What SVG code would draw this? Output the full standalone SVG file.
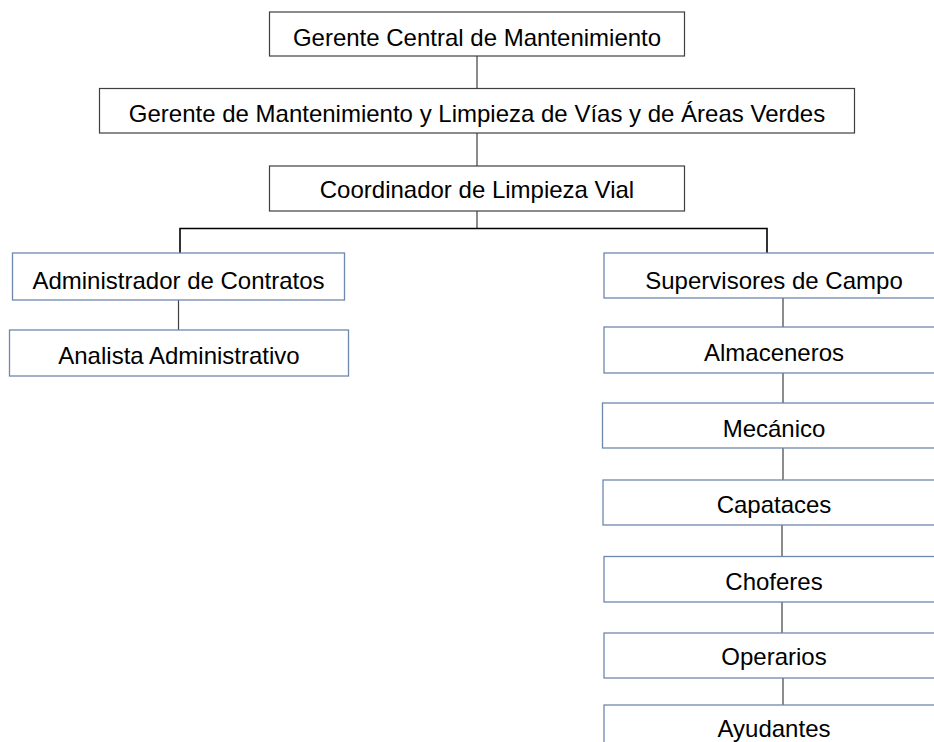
<svg xmlns="http://www.w3.org/2000/svg" width="934" height="742" viewBox="0 0 934 742">
<style>
.box{fill:#fff;stroke:#3f3f3f;stroke-width:1.2}
.bbox{fill:#fff;stroke:#6f88ad;stroke-width:1.3}
.t{font-family:"Liberation Sans",Arial,sans-serif;font-size:24px;fill:#000;text-anchor:middle}
.c{stroke:#3f3f3f;stroke-width:1.2;fill:none}
.k{stroke:#000;stroke-width:1.6;fill:none}
</style>
<rect width="934" height="742" fill="#fff"/>
<g id="connectors">
<line class="c" x1="477" y1="56" x2="477" y2="88"/>
<line class="c" x1="477" y1="133" x2="477" y2="166"/>
<line class="c" x1="477" y1="211" x2="477" y2="228.5"/>
<path class="k" d="M180,253 V228.5 H767 V253"/>
<line class="c" x1="178.5" y1="300" x2="178.5" y2="330"/>
<line class="c" x1="783" y1="298" x2="783" y2="327"/>
<line class="c" x1="783" y1="373" x2="783" y2="403"/>
<line class="c" x1="783" y1="448" x2="783" y2="480"/>
<line class="c" x1="782" y1="525" x2="782" y2="556"/>
<line class="c" x1="782" y1="602" x2="782" y2="633"/>
<line class="c" x1="783" y1="678" x2="783" y2="705"/>
</g>
<g id="gerente-central"><rect class="box" x="269.5" y="12" width="415" height="44"/><text class="t" x="477" y="45.5">Gerente Central de Mantenimiento</text></g>
<g id="gerente-vias"><rect class="box" x="99.5" y="88.5" width="755" height="44.5"/><text class="t" x="477" y="122">Gerente de Mantenimiento y Limpieza de Vías y de Áreas Verdes</text></g>
<g id="coordinador"><rect class="box" x="269.5" y="166" width="415" height="45"/><text class="t" x="477" y="198">Coordinador de Limpieza Vial</text></g>
<g id="administrador"><rect class="bbox" x="12.5" y="253" width="332" height="47"/><text class="t" x="178.5" y="289">Administrador de Contratos</text></g>
<g id="analista"><rect class="bbox" x="9.5" y="330" width="339" height="46"/><text class="t" x="179" y="363.5">Analista Administrativo</text></g>
<g id="supervisores"><rect class="bbox" x="604" y="253" width="345" height="45"/><text class="t" x="774" y="288.5">Supervisores de Campo</text></g>
<g id="almaceneros"><rect class="bbox" x="604" y="327" width="345" height="46"/><text class="t" x="774" y="360.5">Almaceneros</text></g>
<g id="mecanico"><rect class="bbox" x="602.5" y="403" width="345" height="45"/><text class="t" x="774" y="437">Mecánico</text></g>
<g id="capataces"><rect class="bbox" x="603" y="480" width="345" height="45"/><text class="t" x="774" y="513">Capataces</text></g>
<g id="choferes"><rect class="bbox" x="604" y="556.5" width="345" height="45.5"/><text class="t" x="774" y="589.5">Choferes</text></g>
<g id="operarios"><rect class="bbox" x="604" y="633" width="345" height="45"/><text class="t" x="774" y="665">Operarios</text></g>
<g id="ayudantes"><rect class="bbox" x="604" y="705" width="345" height="46"/><text class="t" x="774" y="737">Ayudantes</text></g>
</svg>
